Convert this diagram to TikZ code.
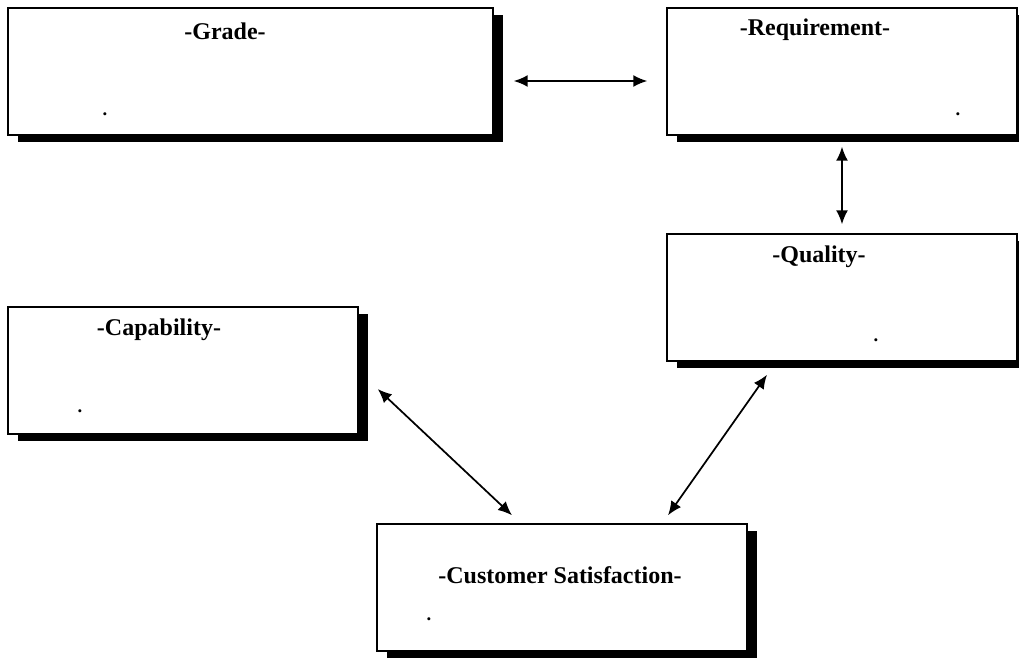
\documentclass[tikz,border=0pt]{standalone}
\usepackage{fontspec}
\setmainfont{Liberation Serif}
\usepackage{tikz}
\usetikzlibrary{arrows.meta,shadows}

\begin{document}
\begin{tikzpicture}[x=0.75pt, y=-0.75pt,
   box/.style = {draw, line width=1.1pt, fill=white, inner sep=0pt,
      minimum height=95.25pt,
      drop shadow={shadow xshift=7.5pt, shadow yshift=-5.25pt, fill=black, opacity=1}},
   title/.style = {font=\fontsize{18}{22}\selectfont\bfseries},
   dot/.style = {font=\fontsize{14}{16}\selectfont\bfseries, inner sep=0pt},
   link/.style = {line width=1.3pt, {Latex[length=10.5pt,width=9pt]}-{Latex[length=10.5pt,width=9pt]}}]
   \useasboundingbox (0,0) rectangle (1019,657);
   % boxes
   \node[box, minimum width=363.75pt] (grade) at (250.5,71.5) {};
   \node[box, minimum width=262.5pt] (requirement) at (842,71.5) {};
   \node[box, minimum width=262.5pt] (quality) at (842,297.5) {};
   \node[box, minimum width=262.5pt] (capability) at (183,370.5) {};
   \node[box, minimum width=277.5pt] (satisfaction) at (562,587.5) {};
   % titles
   \node[title] (gradetitle) at (225,31) {-Grade-};
   \node[title] (requirementtitle) at (815,30) {-Requirement-};
   \node[title] (qualitytitle) at (819,257) {-Quality-};
   \node[title] (capabilitytitle) at (159,330) {-Capability-};
   \node[title] (satisfactiontitle) at (560,575) {-Customer Satisfaction-};
   % dots
   \node[dot] (gradedot) at (105,114) {.};
   \node[dot] (requirementdot) at (958,114) {.};
   \node[dot] (qualitydot) at (876,340) {.};
   \node[dot] (capabilitydot) at (80,411) {.};
   \node[dot] (satisfactiondot) at (429,619) {.};
   % arrows
   \draw[link] ([shift={(20,9.5)}]grade.east) -- ([shift={(-19,9.5)}]requirement.west);
   \draw[link] ([shift={(0,11)}]requirement.south) -- ([shift={(0,-9)}]quality.north);
   \draw[link] ([shift={(19,18.5)}]capability.east) -- ([shift={(-50,-8)}]satisfaction.north);
   \draw[link] ([shift={(-75,13)}]quality.south) -- ([shift={(106,-8)}]satisfaction.north);
\end{tikzpicture}
\end{document}
